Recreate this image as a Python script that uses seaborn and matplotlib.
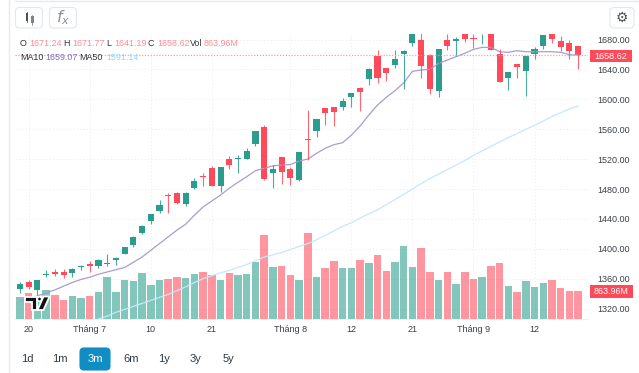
import matplotlib
matplotlib.use("Agg")
import matplotlib.pyplot as plt
from matplotlib.patches import FancyBboxPatch, Rectangle, Polygon, Circle
import numpy as np
import pandas as pd
import seaborn as sns

# Values
opens = [1346.2, 1355.5, 1344.8, 1365.4, 1368.9, 1368.9, 1368.0, 1375.6, 1379.2, 1377.0,
         1380.1, 1385.4, 1393.5, 1405.5, 1421.5, 1436.7, 1450.6, 1471.5, 1474.2, 1459.5,
         1480.9, 1497.8, 1507.6, 1484.5, 1520.2, 1520.2, 1520.6, 1540.7, 1563.0, 1501.9,
         1522.4, 1507.2, 1492.5, 1546.9, 1558.0, 1587.9, 1589.3, 1589.7, 1603.1, 1615.6,
         1627.2, 1657.9, 1641.4, 1645.9, 1661.0, 1674.8, 1679.7, 1659.2, 1610.6, 1678.8,
         1678.4, 1690.0, 1682.0, 1686.9, 1692.0, 1660.6, 1628.9, 1646.7, 1638.3, 1661.0,
         1671.7, 1690.0, 1677.5, 1675.3, 1671.24]
closes = [1352.4, 1348.4, 1358.2, 1366.7, 1366.3, 1364.9, 1372.5, 1377.0, 1377.4, 1385.0,
          1381.0, 1388.1, 1401.9, 1415.7, 1430.9, 1446.5, 1458.1, 1470.2, 1460.8, 1475.1,
          1490.2, 1496.5, 1484.4, 1509.4, 1512.1, 1521.5, 1530.9, 1557.6, 1493.0, 1507.2,
          1502.3, 1495.2, 1529.1, 1546.0, 1573.7, 1581.7, 1583.5, 1597.8, 1608.0, 1610.2,
          1640.1, 1629.0, 1635.2, 1653.5, 1664.1, 1687.3, 1645.0, 1613.7, 1667.7, 1671.3,
          1680.2, 1680.6, 1680.2, 1687.3, 1666.4, 1623.6, 1636.9, 1642.7, 1657.4, 1667.2,
          1685.5, 1680.2, 1670.4, 1664.1, 1658.62]
highs = [1355.1, 1357.8, 1358.2, 1371.6, 1372.9, 1372.5, 1373.8, 1378.3, 1383.6, 1385.9,
         1393.5, 1389.4, 1401.9, 1417.1, 1432.2, 1446.5, 1464.8, 1474.2, 1476.4, 1476.0,
         1494.3, 1500.9, 1511.2, 1509.4, 1524.2, 1525.5, 1534.4, 1557.6, 1565.2, 1512.6,
         1522.4, 1509.0, 1529.1, 1586.2, 1573.7, 1587.9, 1589.3, 1601.3, 1608.0, 1616.5,
         1641.9, 1666.0, 1642.3, 1666.0, 1665.9, 1695.0, 1695.0, 1660.6, 1667.7, 1687.3,
         1683.8, 1695.0, 1688.0, 1687.3, 1695.0, 1667.2, 1636.9, 1646.7, 1658.3, 1669.5,
         1685.5, 1692.0, 1684.2, 1679.7, 1671.77]
lows = [1341.3, 1346.2, 1338.2, 1361.8, 1363.6, 1360.9, 1362.7, 1371.6, 1368.5, 1374.7,
        1377.0, 1378.3, 1393.5, 1402.8, 1419.8, 1433.6, 1447.4, 1447.4, 1460.4, 1457.7,
        1480.0, 1484.4, 1484.0, 1476.5, 1506.8, 1501.9, 1520.2, 1538.0, 1492.1, 1481.8,
        1487.2, 1485.8, 1490.7, 1518.4, 1550.0, 1566.1, 1564.3, 1585.7, 1589.7, 1584.8,
        1619.1, 1621.8, 1624.5, 1642.3, 1613.7, 1671.7, 1628.9, 1607.0, 1603.5, 1665.9,
        1658.3, 1677.0, 1669.0, 1674.4, 1666.4, 1623.6, 1612.9, 1628.9, 1604.8, 1653.4,
        1667.2, 1675.7, 1665.0, 1653.4, 1641.19]
volumes = [669, 792, 587, 885, 741, 587, 700, 648, 710, 833, 1307, 844, 1204, 1163, 1410, 1060,
           1204, 1235, 1307, 1266, 1389, 1441, 1358, 1204, 1410, 1358, 1389, 1760, 2593, 1605,
           1636, 1358, 1204, 2644, 1307, 1585, 1790, 1564, 1564, 1832, 1729, 1976, 1482, 1760,
           2254, 1605, 2202, 1441, 1214, 1461, 1091, 1441, 1235, 1297, 1636, 1729, 1019, 833,
           1183, 988, 1111, 1204, 957, 864, 864]
ma10 = [1330, 1333, 1337, 1341, 1345, 1350, 1355, 1359, 1362, 1366, 1369, 1372, 1375, 1382,
        1389, 1398, 1407, 1416, 1425, 1433, 1445, 1456, 1464, 1472, 1481, 1489, 1496.5, 1504.5,
        1507.7, 1511, 1512, 1512.6, 1517.5, 1520, 1527.7, 1534.4, 1539.3, 1542, 1552, 1564.3,
        1579, 1592.4, 1602.6, 1611.6, 1622, 1637.4, 1639.2, 1640, 1648, 1652.5, 1657, 1661.5,
        1666.8, 1669.5, 1669.5, 1663.7, 1662.8, 1665, 1663.7, 1663.7, 1663.7, 1663.7, 1662.8,
        1659.7, 1659.07]
ma50 = [1306, 1310, 1315, 1319, 1323, 1327, 1331, 1335, 1339, 1344, 1349, 1355, 1360, 1364,
        1368, 1371, 1375, 1379, 1384, 1389, 1392, 1395, 1399, 1403, 1407, 1412, 1418, 1424,
        1430, 1435, 1441, 1447, 1452, 1459, 1466, 1473, 1480, 1487, 1494, 1500, 1506, 1512,
        1518, 1525, 1531, 1537, 1543, 1549, 1554, 1560, 1565, 1571, 1577, 1582, 1587, 1591.14]
ma50_start = 9
price_ticks = [1320, 1360, 1400, 1440, 1480, 1520, 1560, 1600, 1640, 1680]
date_ticks = [1, 8, 15, 22, 31, 38, 45, 52, 59]
date_labels = ['20', 'Tháng 7', '10', '21', 'Tháng 8', '12', '21', 'Tháng 9', '12']
ranges = ['1d', '1m', '3m', '6m', '1y', '3y', '5y']

GREEN = '#2a9d8c'
RED = '#ff4a5a'
W, H = 639, 373

sns.set_theme(style='white')
plt.rcParams['font.family'] = ['Liberation Sans', 'DejaVu Sans']

tb = pd.DataFrame({'idx': range(len(opens)), 'open': opens, 'close': closes,
                   'high': highs, 'low': lows, 'vol': volumes, 'ma10': ma10})
tb['dir'] = np.where(tb['close'] >= tb['open'], 'up', 'down')
tb['color'] = tb['dir'].map({'up': GREEN, 'down': RED})
tb_ma50 = pd.DataFrame({'idx': range(ma50_start, ma50_start + len(ma50)), 'ma50': ma50})

fig = plt.figure(figsize=(W / 100, H / 100), dpi=100, facecolor='white')
rect = [15 / W, 1 - 319 / H, (588 - 15) / W, (319 - 34) / H]
xlim = (-0.57, 65.13)
ylim = (1306.1, 1687.36)

# Base layer: grid and axis labels
ax = fig.add_axes(rect, zorder=1)
ax.set_xlim(xlim)
ax.set_ylim(ylim)
ax.set_xticks(date_ticks, date_labels)
ax.set_yticks(price_ticks, [f"{p:.2f}" for p in price_ticks])
ax.yaxis.tick_right()
ax.tick_params(axis='both', length=0, labelsize=6.5, labelcolor='#3a4048')
ax.tick_params(axis='y', pad=6.6)
ax.tick_params(axis='x', pad=4.5)
ax.grid(True, color='#eef1f4', linestyle=(0, (1.5, 2)), linewidth=0.7)
for side in ['top', 'left', 'right']:
    ax.spines[side].set_visible(False)
ax.spines['bottom'].set_color('#eef1f4')
ax.spines['bottom'].set_linewidth(0.7)

# Volume layer
axv = fig.add_axes(rect, zorder=2)
axv.patch.set_visible(False)
sns.barplot(data=tb, x='idx', y='vol', hue='dir', palette={'up': GREEN, 'down': RED},
            native_scale=True, dodge=False, width=0.86, alpha=0.58, saturation=1, legend=False,
            linewidth=0, ax=axv)
axv.set_xlim(xlim)
axv.set_ylim(0, 8795)
axv.axis('off')

# Price layer
axp = fig.add_axes(rect, zorder=3)
axp.patch.set_visible(False)
axp.set_xlim(xlim)
axp.set_ylim(ylim)
axp.axis('off')
sns.lineplot(data=tb, x='idx', y='ma10', color='#a99dcd', linewidth=0.9, ax=axp)
sns.lineplot(data=tb_ma50, x='idx', y='ma50', color='#c3e9fa', linewidth=0.9, ax=axp)
axp.vlines(tb['idx'], tb['low'], tb['high'], colors=tb['color'], linewidth=0.8, alpha=0.85)
body = (tb['close'] - tb['open']).abs().clip(lower=1.3)
axp.bar(tb['idx'], body, bottom=tb[['open', 'close']].min(axis=1), width=0.7,
        color=tb['color'], linewidth=0)
axp.axhline(closes[-1], color='#ff9aa2', linestyle=(0, (1, 1.3)), linewidth=0.9)
axp.set_xlim(xlim)
axp.set_ylim(ylim)
axp.set_xlabel('')
axp.set_ylabel('')

# Overlay in pixel coordinates for the page furniture
ov = fig.add_axes([0, 0, 1, 1], zorder=4)
ov.set_xlim(0, W)
ov.set_ylim(H, 0)
ov.axis('off')
ov.patch.set_visible(False)

ov.plot([8.5, 8.5], [0, H], color='#e4eaf0', linewidth=1)
ov.plot([15, W], [1.2, 1.2], color='#e4eaf0', linewidth=1)

def box(x0, y0, x1, y1, fc='white', ec='#e3e8ee', r=4):
    ov.add_patch(FancyBboxPatch((x0, y0), x1 - x0, y1 - y0, boxstyle=f"round,pad=0,rounding_size={r}",
                                fc=fc, ec=ec, linewidth=0.8))

box(15.5, 7.5, 42.5, 28)
box(49.5, 7.5, 76.5, 28)
box(610, 7.5, 634, 28)
# candle icon
ov.add_patch(Rectangle((25.7, 13), 2.6, 7.5, color='#4a5058', linewidth=0))
ov.plot([27, 27], [11.5, 22], color='#4a5058', linewidth=0.6)
ov.add_patch(Rectangle((31, 16), 2.6, 7, color='#7d838a', linewidth=0))
ov.plot([32.3, 32.3], [14.5, 25], color='#7d838a', linewidth=0.6)
ov.text(63, 17.5, r'$f_x$', fontsize=11.5, color='#8a9096', ha='center', va='center')
ov.text(622, 18, '⚙', family='DejaVu Sans', fontsize=10, color='#4a5058', ha='center', va='center')

# Legend rows
head = '#2f343a'
val = '#ff8b94'
row1 = [('O', 20, head), ('1671.24', 29, val), ('H', 63, head), ('1671.77', 72, val), ('L', 106, head),
        ('1641.19', 114, val), ('C', 147, head), ('1658.62', 157, val), ('Vol', 190, head), ('863.96M', 204, val)]
row2 = [('MA10', 20, head), ('1659.07', 45, '#7f70b8'), ('MA50', 79, head), ('1591.14', 106, '#93d6f7')]
for s, x, c in row1:
    ov.text(x, 44, s, fontsize=6.4, color=c, ha='left', va='center')
for s, x, c in row2:
    ov.text(x, 57, s, fontsize=6.4, color=c, ha='left', va='center')

# Price and volume tags
ov.add_patch(Rectangle((590, 50), 42, 12, color=RED, linewidth=0))
ov.text(611, 56.3, f"{closes[-1]:.2f}", fontsize=6.5, color='white', ha='center', va='center')
ov.add_patch(Rectangle((590, 285), 43, 13, color=RED, linewidth=0))
ov.text(611.5, 291.5, '863.96M', fontsize=6.4, color='white', ha='center', va='center')

# Logo
blk = dict(fc='#111111', ec='white', linewidth=1.3)
ov.add_patch(Polygon([(25, 296.5), (37, 296.5), (37, 310), (32, 310), (32, 301.5), (25, 301.5)], **blk))
ov.add_patch(Circle((39.5, 299), 2.3, **blk))
ov.add_patch(Polygon([(43.5, 296.5), (49.5, 296.5), (43.5, 310), (37.5, 310)], **blk))

# Range buttons
box(80, 348, 110, 370, fc='#0f8dc4', ec='#0f8dc4', r=4)
for s, x in zip(ranges, [27.5, 60, 95, 131, 164, 196, 228]):
    ov.text(x, 359.3, s, fontsize=8, color='white' if s == '3m' else '#2f3a46',
            ha='center', va='center')

fig.savefig('out.png', dpi=100, facecolor='white')
